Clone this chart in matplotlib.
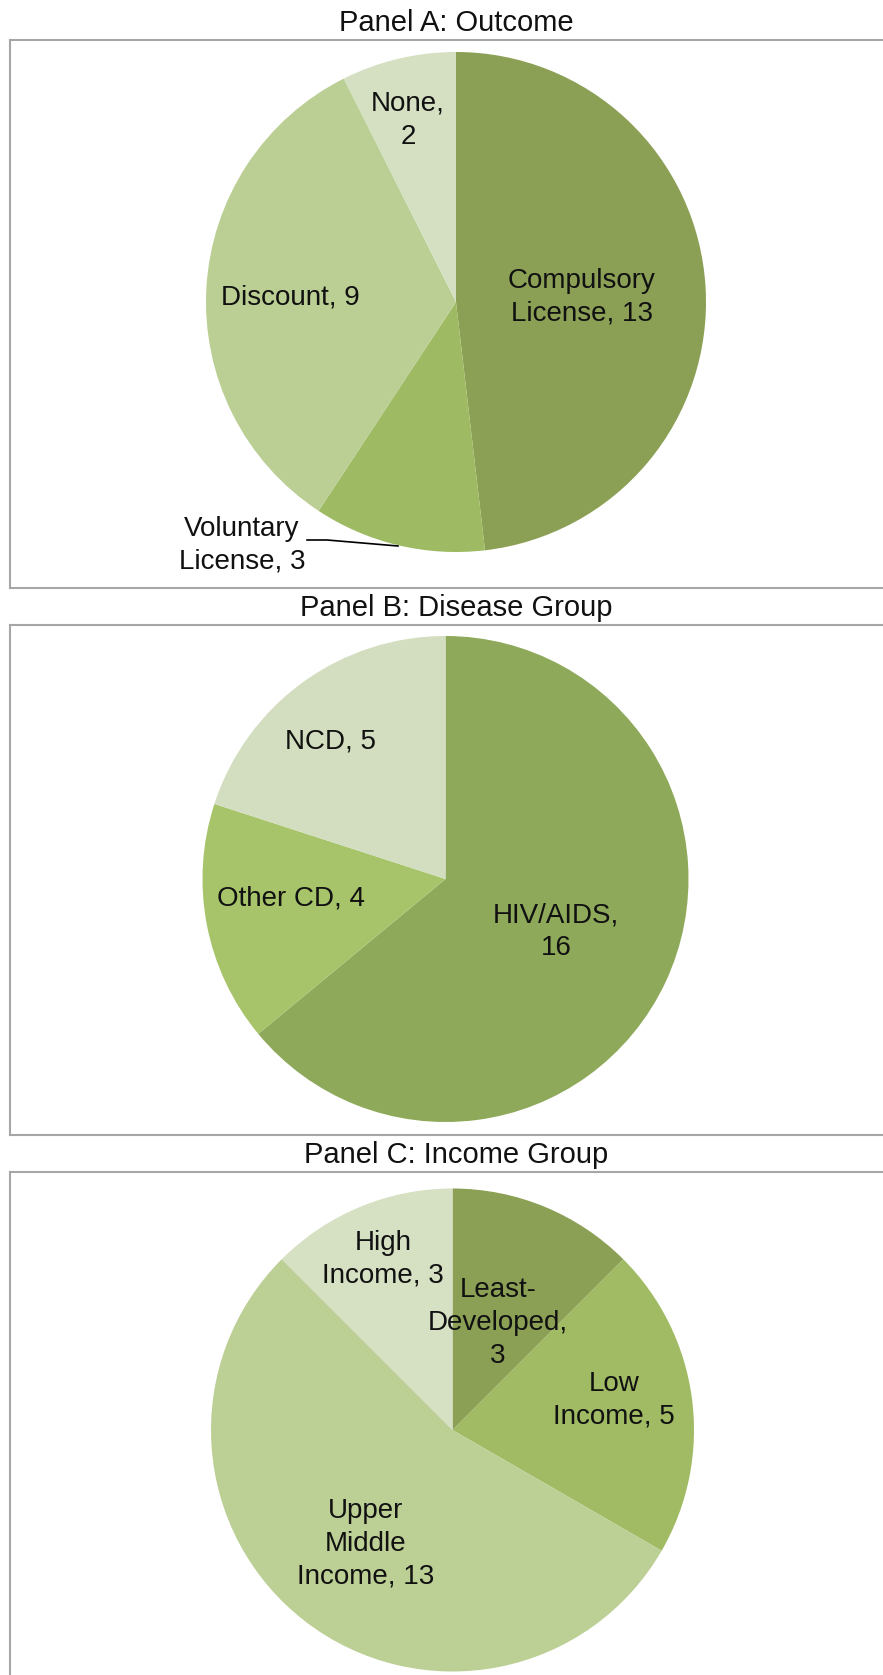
import matplotlib
matplotlib.use('Agg')
import matplotlib.pyplot as plt

plt.rcParams['font.family'] = ['Liberation Sans', 'DejaVu Sans']

W, H = 883, 1675

# panel A: outcome
outcome_labels = ['Compulsory\nLicense, 13', 'Voluntary\nLicense, 3', 'Discount, 9', 'None,\n2']
outcome_values = [13, 3, 9, 2]
outcome_colors = ['#8BA055', '#9EBA62', '#BBCF95', '#D5E0C2']

# panel B: disease group
disease_labels = ['HIV/AIDS,\n16', 'Other CD, 4', 'NCD, 5']
disease_values = [16, 4, 5]
disease_colors = ['#8FA95A', '#A7C46A', '#D2DEBF']

# panel C: income group
income_labels = ['Least-\nDeveloped,\n3', 'Low\nIncome, 5', 'Upper\nMiddle\nIncome, 13', 'High\nIncome, 3']
income_values = [3, 5, 13, 3]
income_colors = ['#8BA055', '#A0BB64', '#BCCF95', '#D6E0C2']

panels = [
    dict(title='Panel A: Outcome', title_y=23, box=(40, 588), center=(456, 302), r=250,
         labels=outcome_labels, values=outcome_values, colors=outcome_colors,
         label_pos=[(0.504, 0.02), (-0.856, -0.972), (-0.664, 0.02), (-0.192, 0.728)]),
    dict(title='Panel B: Disease Group', title_y=608, box=(625, 1135), center=(445.5, 879), r=243,
         labels=disease_labels, values=disease_values, colors=disease_colors,
         label_pos=[(0.455, -0.218), (-0.636, -0.082), (-0.475, 0.564)]),
    dict(title='Panel C: Income Group', title_y=1155, box=(1172, 1700), center=(452.5, 1430), r=241.5,
         labels=income_labels, values=income_values, colors=income_colors,
         label_pos=[(0.188, 0.445), (0.669, 0.124), (-0.358, -0.472), (-0.288, 0.708)]),
]

fig = plt.figure(figsize=(W / 100, H / 100), dpi=100)


def px_rect(x0, y0, x1, y1):
    return [x0 / W, 1 - y1 / H, (x1 - x0) / W, (y1 - y0) / H]


for p in panels:
    top, bottom = p['box']
    box = fig.add_axes(px_rect(10, top, W + 20, bottom))
    box.set_xticks([])
    box.set_yticks([])
    for s in box.spines.values():
        s.set_color('#A6A6A6')
        s.set_linewidth(1.5)

    cx, cy = p['center']
    r = p['r']
    ax = fig.add_axes(px_rect(cx - r, cy - r, cx + r, cy + r))
    ax.pie(p['values'], colors=p['colors'], startangle=90, counterclock=False,
           wedgeprops=dict(linewidth=0))
    ax.set_xlim(-1, 1)
    ax.set_ylim(-1, 1)
    ax.set_aspect('equal')
    ax.axis('off')
    for lab, (lx, ly) in zip(p['labels'], p['label_pos']):
        ax.text(lx, ly, lab, ha='center', va='center', fontsize=20, color='#111111',
                linespacing=1.35, clip_on=False)

    fig.text(456 / W, 1 - p['title_y'] / H, p['title'], ha='center', va='center',
             fontsize=21, color='#111111')

    if p['title'].startswith('Panel A'):
        # leader line for the small voluntary license slice
        ax.plot([-0.596, -0.516, -0.232], [-0.952, -0.952, -0.976], color='black',
                linewidth=1.2, clip_on=False)

fig.savefig('out.png', dpi=100)
